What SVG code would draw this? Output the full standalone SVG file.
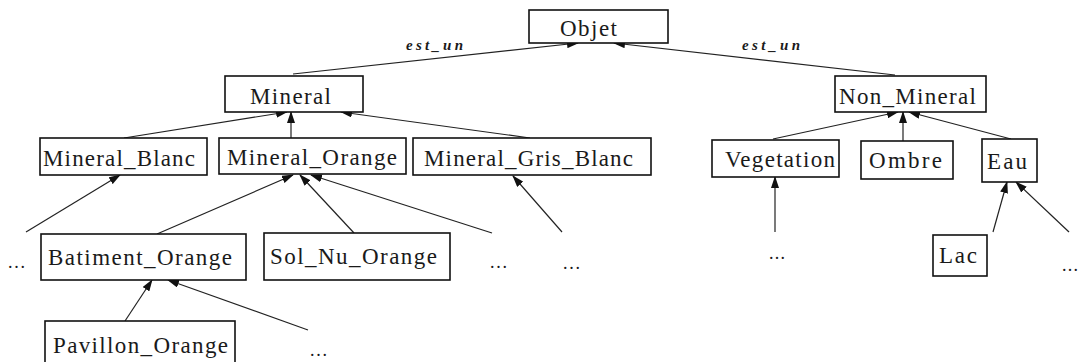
<svg xmlns="http://www.w3.org/2000/svg" width="1081" height="362" viewBox="0 0 1081 362" font-family="Liberation Serif, Times New Roman, Times, serif">
<style>
.box{fill:#fff;stroke:#111;stroke-width:1.6}
.lbl{font-size:23px;fill:#1a1a1a}
.dots{font-size:18px;fill:#1a1a1a}
.rel{font-size:15px;font-weight:bold;font-style:italic;fill:#1a1a1a}
.edge{stroke:#222;stroke-width:1.2;fill:none;marker-end:url(#arr)}
</style>
<defs>
<marker id="arr" markerUnits="userSpaceOnUse" markerWidth="12" markerHeight="8" refX="11" refY="4" orient="auto">
<path d="M0,0 L12,4 L0,8 Z" fill="#111"/>
</marker>
</defs>
<rect width="1081" height="362" fill="#fff"/>
<g id="connectors">
<line class="edge" x1="293" y1="74" x2="578" y2="43"/>
<line class="edge" x1="895" y1="75" x2="614" y2="43"/>
<line class="edge" x1="124" y1="138" x2="287" y2="112"/>
<line class="edge" x1="291" y1="138" x2="291" y2="112"/>
<line class="edge" x1="530" y1="138" x2="341" y2="112"/>
<line class="edge" x1="773" y1="139" x2="898" y2="112"/>
<line class="edge" x1="903" y1="141" x2="903" y2="112"/>
<line class="edge" x1="1011" y1="139" x2="909" y2="112"/>
<line class="edge" x1="26" y1="232" x2="120" y2="175"/>
<line class="edge" x1="157" y1="234" x2="293" y2="175"/>
<line class="edge" x1="354" y1="233" x2="300" y2="175"/>
<line class="edge" x1="492" y1="233" x2="311" y2="175"/>
<line class="edge" x1="562" y1="232" x2="513" y2="176"/>
<line class="edge" x1="775" y1="232" x2="775" y2="177"/>
<line class="edge" x1="993" y1="232" x2="1007" y2="182"/>
<line class="edge" x1="1069" y1="232" x2="1016" y2="182"/>
<line class="edge" x1="125" y1="321" x2="152" y2="280"/>
<line class="edge" x1="308" y1="330" x2="168" y2="280"/>
<text class="rel" x="406" y="50" textLength="57" lengthAdjust="spacing">est_un</text>
<text class="rel" x="742" y="50" textLength="58" lengthAdjust="spacing">est_un</text>
</g>
<g id="n-objet"><rect class="box" x="529" y="10" width="139" height="33"/><text class="lbl" x="560" y="36" textLength="57" lengthAdjust="spacing">Objet</text></g>
<g id="n-mineral"><rect class="box" x="225" y="76" width="138" height="36"/><text class="lbl" x="250" y="104" textLength="81" lengthAdjust="spacing">Mineral</text></g>
<g id="n-non-mineral"><rect class="box" x="835" y="76" width="151" height="36"/><text class="lbl" x="839" y="104" textLength="137" lengthAdjust="spacing">Non_Mineral</text></g>
<g id="n-mineral-blanc"><rect class="box" x="40" y="138" width="167" height="37"/><text class="lbl" x="43" y="166" textLength="152" lengthAdjust="spacing">Mineral_Blanc</text></g>
<g id="n-mineral-orange"><rect class="box" x="219" y="138" width="187" height="36"/><text class="lbl" x="227" y="165" textLength="170" lengthAdjust="spacing">Mineral_Orange</text></g>
<g id="n-mineral-gris-blanc"><rect class="box" x="413" y="138" width="238" height="37"/><text class="lbl" x="424" y="166" textLength="209" lengthAdjust="spacing">Mineral_Gris_Blanc</text></g>
<g id="n-vegetation"><rect class="box" x="712" y="140" width="127" height="37"/><text class="lbl" x="725" y="167" textLength="110" lengthAdjust="spacing">Vegetation</text></g>
<g id="n-ombre"><rect class="box" x="861" y="141" width="92" height="38"/><text class="lbl" x="869" y="168" textLength="73" lengthAdjust="spacing">Ombre</text></g>
<g id="n-eau"><rect class="box" x="982" y="139" width="55" height="43"/><text class="lbl" x="987" y="169" textLength="40" lengthAdjust="spacing">Eau</text></g>
<g id="n-batiment-orange"><rect class="box" x="41" y="234" width="205" height="46"/><text class="lbl" x="48" y="265" textLength="184" lengthAdjust="spacing">Batiment_Orange</text></g>
<g id="n-sol-nu-orange"><rect class="box" x="264" y="233" width="186" height="47"/><text class="lbl" x="270" y="264" textLength="167" lengthAdjust="spacing">Sol_Nu_Orange</text></g>
<g id="n-pavillon-orange"><rect class="box" x="45" y="321" width="190" height="45"/><text class="lbl" x="53" y="353" textLength="175" lengthAdjust="spacing">Pavillon_Orange</text></g>
<g id="n-lac"><rect class="box" x="933" y="235" width="54" height="41"/><text class="lbl" x="939" y="263" textLength="38" lengthAdjust="spacing">Lac</text></g>
<g id="n-dots-1"><text class="dots" x="8" y="268" textLength="17" lengthAdjust="spacing">...</text></g>
<g id="n-dots-2"><text class="dots" x="490" y="268" textLength="17" lengthAdjust="spacing">...</text></g>
<g id="n-dots-3"><text class="dots" x="563" y="269" textLength="17" lengthAdjust="spacing">...</text></g>
<g id="n-dots-4"><text class="dots" x="769" y="259" textLength="16" lengthAdjust="spacing">...</text></g>
<g id="n-dots-5"><text class="dots" x="310" y="356" textLength="17" lengthAdjust="spacing">...</text></g>
<g id="n-dots-6"><text class="dots" x="1062" y="271" textLength="16" lengthAdjust="spacing">...</text></g>
</svg>
